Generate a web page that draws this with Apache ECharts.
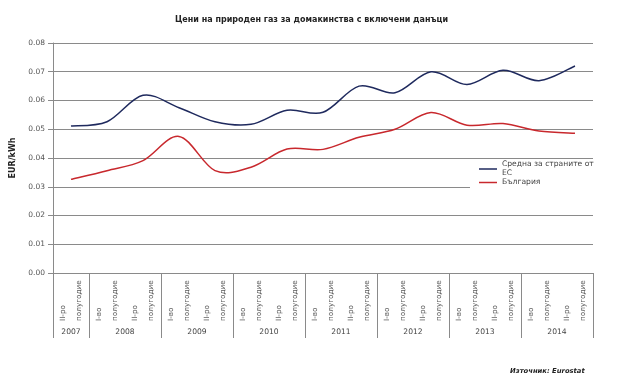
<!DOCTYPE html>
<html><head><meta charset="utf-8">
<script src="https://cdn.jsdelivr.net/npm/echarts@6/dist/echarts.min.js"></script>
<style>html,body{margin:0;padding:0;background:#fff}#c{width:623px;height:380px}</style>
</head><body><div id="c"></div>
<script>
const titleText = 'Цени на природен газ за домакинства с включени данъци';
const sourceText = 'Източник: Eurostat';
const yAxisName = 'EUR/kWh';
const halfLabels = ['II-ро\nполугодие','I-во\nполугодие','II-ро\nполугодие','I-во\nполугодие','II-ро\nполугодие','I-во\nполугодие','II-ро\nполугодие','I-во\nполугодие','II-ро\nполугодие','I-во\nполугодие','II-ро\nполугодие','I-во\nполугодие','II-ро\nполугодие','I-во\nполугодие','II-ро\nполугодие'];
const years = ['2007','2008','2009','2010','2011','2012','2013','2014'];
const seriesNames = ['Средна за страните от\nЕС','България'];
const seriesColors = ['#1f2a5e', '#c8282d'];
const euAverage = [0.0511,0.0526,0.0618,0.0575,0.0526,0.0517,0.0566,0.0559,0.0650,0.0627,0.0700,0.0656,0.0705,0.0669,0.0720];
const bulgaria = [0.0326,0.0356,0.0391,0.0475,0.0356,0.0368,0.0431,0.0430,0.0472,0.0500,0.0558,0.0514,0.0520,0.0494,0.0486];

// year axis slots: half-year steps of 0.5 across 15 categories (31 points)
const nSlots = halfLabels.length * 2 + 1;
const yearSlots = new Array(nSlots).fill('');
yearSlots[1] = years[0];
for (let i = 1; i < years.length; i++) yearSlots[4 * i] = years[i];
const isSeparator = (idx) => idx === 0 || idx === nSlots - 1 || (idx - 2) % 4 === 0;

// Smooth (Catmull-Rom style, like the spreadsheet's smoothed line) path through the points,
// positioned with the chart's own scales via api.coord.
function smoothRenderer(values, color) {
  return function (params, api) {
    if (params.dataIndex !== 0) return null;
    const p = values.map((v, i) => api.coord([i, v]));
    const n = p.length;
    let d = 'M' + p[0][0] + ' ' + p[0][1];
    for (let i = 0; i < n - 1; i++) {
      const p0 = p[Math.max(i - 1, 0)], p1 = p[i], p2 = p[i + 1], p3 = p[Math.min(i + 2, n - 1)];
      const c1x = p1[0] + (p2[0] - p0[0]) / 6, c1y = p1[1] + (p2[1] - p0[1]) / 6;
      const c2x = p2[0] - (p3[0] - p1[0]) / 6, c2y = p2[1] - (p3[1] - p1[1]) / 6;
      d += ' C' + c1x + ' ' + c1y + ' ' + c2x + ' ' + c2y + ' ' + p2[0] + ' ' + p2[1];
    }
    return {type: 'path', shape: {pathData: d}, style: {stroke: color, lineWidth: 1.5, fill: null}, silent: true};
  };
}

const FONT = 'DejaVu Sans';
const chart = echarts.init(document.getElementById('c'), null, {renderer: 'canvas'});
chart.setOption({
  animation: false,
  backgroundColor: '#fff',
  title: [
    {text: titleText, left: 'center', top: 11, textStyle: {fontFamily: FONT, fontSize: 8, fontWeight: 'bold', color: '#222'}},
    {text: sourceText, left: 505, top: 363, textStyle: {fontFamily: FONT, fontSize: 6.8, fontWeight: 'bold', fontStyle: 'italic', color: '#222'}}
  ],
  legend: {
    orient: 'vertical', left: 470, top: 159, padding: [1, 6, 3, 9],
    backgroundColor: '#fff', itemWidth: 18, itemHeight: 1.5, itemGap: 0,
    textStyle: {fontFamily: FONT, fontSize: 7.6, color: '#444', lineHeight: 9},
    data: [{name: seriesNames[0], icon: 'rect'}, {name: seriesNames[1], icon: 'rect'}]
  },
  grid: {left: 53, right: 30, top: 43, bottom: 107, containLabel: false},
  xAxis: [
    {
      type: 'category', data: halfLabels, boundaryGap: true, position: 'bottom',
      axisLine: {show: true, lineStyle: {color: '#8a8a8a', width: 1}},
      axisTick: {show: false},
      axisLabel: {interval: 0, rotate: 90, align: 'left', margin: 48, fontFamily: FONT, fontSize: 7.3, color: '#555', lineHeight: 16}
    },
    {
      type: 'category', data: yearSlots, boundaryGap: false, position: 'bottom', offset: 0,
      axisLine: {show: false},
      axisTick: {show: true, length: 65, interval: (idx) => isSeparator(idx), lineStyle: {color: '#8a8a8a', width: 1}},
      axisLabel: {interval: 0, margin: 55, fontFamily: FONT, fontSize: 7.6, color: '#444'}
    }
  ],
  yAxis: {
    type: 'value', min: 0, max: 0.08, interval: 0.01,
    name: yAxisName, nameLocation: 'middle', nameGap: 27, nameRotate: 90,
    nameTextStyle: {fontFamily: FONT, fontSize: 8, fontWeight: 'bold', color: '#222'},
    axisLine: {show: true, lineStyle: {color: '#8a8a8a', width: 1}},
    axisTick: {show: true, length: 5, lineStyle: {color: '#8a8a8a'}},
    axisLabel: {margin: 8, fontFamily: FONT, fontSize: 7.5, color: '#555', formatter: (v) => v.toFixed(2)},
    splitLine: {show: true, lineStyle: {color: '#8a8a8a', width: 1}}
  },
  series: [
    {name: seriesNames[0], type: 'custom', data: euAverage.map((v, i) => [i, v]), encode: {x: 0, y: 1},
     renderItem: smoothRenderer(euAverage, seriesColors[0]), itemStyle: {color: seriesColors[0]}, z: 3},
    {name: seriesNames[1], type: 'custom', data: bulgaria.map((v, i) => [i, v]), encode: {x: 0, y: 1},
     renderItem: smoothRenderer(bulgaria, seriesColors[1]), itemStyle: {color: seriesColors[1]}, z: 3}
  ]
});
</script></body></html>
